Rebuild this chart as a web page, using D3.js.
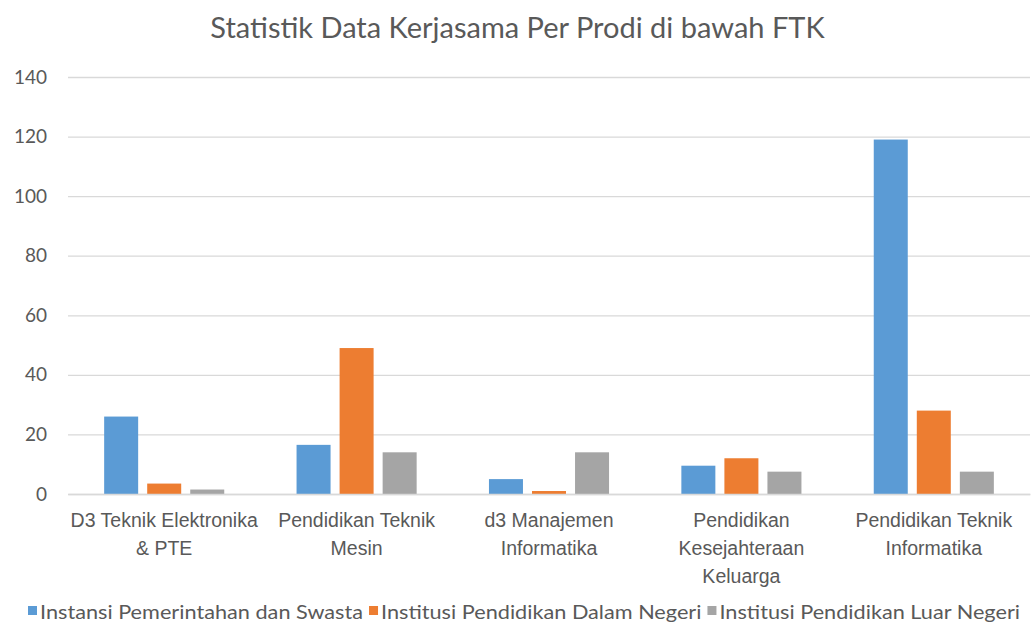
<!DOCTYPE html>
<html>
<head>
<meta charset="utf-8">
<script src="https://cdn.jsdelivr.net/npm/d3@7"></script>
<style>
  body { margin: 0; background: #fff; }
  svg { font-family: Lato, "Open Sans", sans-serif; }
</style>
</head>
<body>
<div id="chart"></div>
<script>
// categories (program studi) and the three series
const categories = [
  ['D3 Teknik Elektronika', '& PTE'],
  ['Pendidikan Teknik', 'Mesin'],
  ['d3 Manajemen', 'Informatika'],
  ['Pendidikan', 'Kesejahteraan', 'Keluarga'],
  ['Pendidikan Teknik', 'Informatika']
];
const seriesNames = [
  'Instansi Pemerintahan dan Swasta',
  'Institusi Pendidikan Dalam Negeri',
  'Institusi Pendidikan Luar Negeri'
];
const instansi = [26, 16.5, 5, 9.5, 119];
const dalamNegeri = [3.5, 49, 1, 12, 28];
const luarNegeri = [1.5, 14, 14, 7.5, 7.5];
const yTicks = [0, 20, 40, 60, 80, 100, 120, 140];

const colors = ['#5B9BD5', '#ED7D31', '#A5A5A5'];
const allSeries = [instansi, dalamNegeri, luarNegeri];

const width = 1035;
const height = 639;
const margin = { top: 77, right: 5, bottom: 145, left: 68 };

const svg = d3.select('#chart')
  .append('svg')
  .attr('width', width)
  .attr('height', height);

const keys = categories.map((c, i) => i);

const xScale = d3.scaleBand()
  .domain(keys)
  .range([margin.left, width - margin.right]);

// bars inside one category: ~34px wide, 9px apart
const xInner = d3.scaleBand()
  .domain([0, 1, 2])
  .range([0, xScale.bandwidth()])
  .paddingInner(0.21)
  .paddingOuter(0.84);

const yScale = d3.scaleLinear()
  .domain([0, 140])
  .range([height - margin.bottom, margin.top]);

// title
svg.append('text')
  .attr('x', width / 2)
  .attr('y', 38)
  .attr('text-anchor', 'middle')
  .attr('font-size', 29)
  .attr('fill', '#595959')
  .text('Statistik Data Kerjasama Per Prodi di bawah FTK');

// gridlines
svg.append('g')
  .attr('class', 'gridlines')
  .attr('transform', `translate(${margin.left}, 0)`)
  .call(d3.axisLeft(yScale).tickValues(yTicks).tickFormat('').tickSize(-(width - margin.left - margin.right)))
  .call(g => g.select('.domain').remove())
  .call(g => g.selectAll('line').attr('stroke', '#D9D9D9').attr('stroke-width', 1.3));

// y axis labels
svg.append('g')
  .attr('transform', `translate(${margin.left}, 0)`)
  .call(d3.axisLeft(yScale).tickValues(yTicks).tickSize(0).tickPadding(21))
  .call(g => g.select('.domain').remove())
  .call(g => g.selectAll('text').attr('font-size', 19).attr('fill', '#595959').attr('font-family', 'Lato, sans-serif'));

// bars
const groups = svg.append('g')
  .selectAll('g')
  .data(keys)
  .join('g')
  .attr('transform', (d) => `translate(${xScale(d)}, 0)`);

groups.selectAll('rect')
  .data((i) => allSeries.map((s, k) => ({ k, v: s[i] })))
  .join('rect')
  .attr('x', (d) => xInner(d.k))
  .attr('width', xInner.bandwidth())
  .attr('y', (d) => yScale(d.v))
  .attr('height', (d) => yScale(0) - yScale(d.v))
  .attr('fill', (d) => colors[d.k]);

// category labels
const xAxis = svg.append('g')
  .attr('transform', `translate(0, ${yScale(0)})`)
  .call(d3.axisBottom(xScale).tickSize(0).tickFormat(''))
  .call(g => g.select('.domain').attr('stroke', '#D9D9D9').attr('stroke-width', 1.3));

xAxis.selectAll('.tick').each(function (d) {
  const t = d3.select(this).append('text')
    .attr('text-anchor', 'middle')
    .attr('fill', '#595959')
    .attr('font-size', 19.5)
    .attr('y', 33);
  categories[d].forEach((line, j) => {
    t.append('tspan').attr('x', 0).attr('dy', j === 0 ? 0 : 28).text(line);
  });
});

// legend, spread across 28..1020 like the reference
const legend = svg.append('g').attr('transform', 'translate(0, 619)');
const legendTexts = seriesNames.map((name, k) =>
  legend.append('text')
    .attr('font-size', 19)
    .attr('fill', '#595959')
    .text(name));
const natural = legendTexts.map((t) => t.node().getComputedTextLength());
const box = 9, gapBox = 3, gapItem = 6;
const fixed = seriesNames.length * (box + gapBox) + (seriesNames.length - 1) * gapItem;
const f = (1020 - 28 - fixed) / d3.sum(natural);
let lx = 28;
legendTexts.forEach((t, k) => {
  legend.append('rect')
    .attr('x', lx).attr('y', -13).attr('width', box).attr('height', box)
    .attr('fill', colors[k]);
  const w = natural[k] * f;
  t.attr('x', lx + box + gapBox)
    .attr('textLength', w)
    .attr('lengthAdjust', 'spacingAndGlyphs');
  lx += box + gapBox + w + gapItem;
});
</script>
</body>
</html>
